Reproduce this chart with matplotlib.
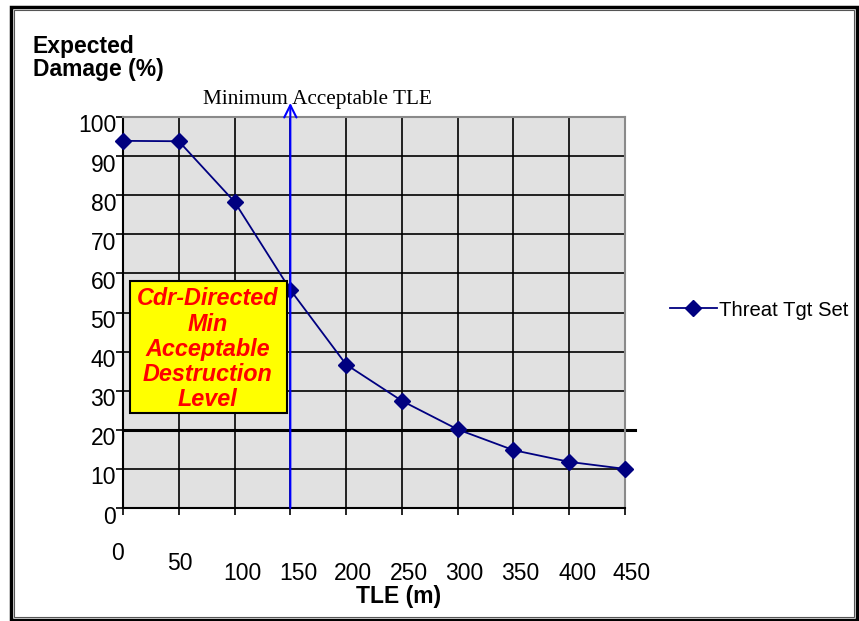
import matplotlib
matplotlib.use('Agg')
import matplotlib.pyplot as plt
from matplotlib.patches import Rectangle

# data
tle = [0, 50, 100, 150, 200, 250, 300, 350, 400, 450]
damage = [93.9, 93.8, 78.3, 55.8, 36.7, 27.4, 20.1, 14.8, 11.8, 10.0]
y_ticks = [0, 10, 20, 30, 40, 50, 60, 70, 80, 90, 100]
x_labels = ['0', '50', '100', '150', '200', '250', '300', '350', '400', '450']
min_tle = 150
min_destruction = 20
series_name = 'Threat Tgt Set'
box_text = 'Cdr-Directed\nMin\nAcceptable\nDestruction\nLevel'

plt.rcParams['font.family'] = ['Liberation Sans', 'DejaVu Sans']

W, H = 859, 621
fig = plt.figure(figsize=(W / 100, H / 100), dpi=100)
ax = fig.add_axes([123 / W, 1 - 508 / H, (625 - 123) / W, (508 - 117) / H])
ax.set_facecolor('#e1e1e1')

ax.set_xlim(0, 450)
ax.set_ylim(0, 100)
ax.set_xticks(tle)
ax.set_yticks(y_ticks)
ax.set_xticklabels([])
ax.set_yticklabels([])
ax.tick_params(direction='out', length=5, width=1.2, color='black')
ax.grid(True, color='black', linewidth=1.2)
ax.set_axisbelow(True)
for side in ['top', 'right']:
    ax.spines[side].set_color('#8a8a8a')
    ax.spines[side].set_linewidth(1.5)
for side in ['left', 'bottom']:
    ax.spines[side].set_color('black')
    ax.spines[side].set_linewidth(1.5)

tick_fs = 16.5

# y tick labels (a bit below the grid lines, like the original)
for v in y_ticks:
    ax.annotate(str(v), xy=(0, v), xycoords=('axes fraction', 'data'),
                xytext=(-7, -9), textcoords='offset pixels',
                ha='right', va='center', fontsize=tick_fs)

# x tick labels, staggered as in the original
x_off = [-6, 1, 8, 8, 7, 7, 7, 7, 8, 7]
y_off = [-45, -55, -65, -65, -65, -65, -65, -65, -65, -65]
for xv, lab, dx, dy in zip(tle, x_labels, x_off, y_off):
    ax.annotate(lab, xy=(xv, 0), xycoords='data',
                xytext=(dx, dy), textcoords='offset pixels',
                ha='center', va='center', fontsize=tick_fs,
                annotation_clip=False)

# minimum destruction level line
ax.plot([0, 459], [min_destruction, min_destruction], color='black',
        linewidth=2.2, clip_on=False, zorder=2)

# series
line, = ax.plot(tle, damage, color='#000080', linewidth=1.3, marker='D',
                markersize=8, clip_on=False, zorder=5, label=series_name)

# minimum acceptable TLE arrow
ax.annotate('', xy=(min_tle, 103.6), xytext=(min_tle, 0),
            arrowprops=dict(arrowstyle='->', color='#0000ff', lw=1.5,
                            mutation_scale=22, shrinkA=0, shrinkB=0),
            annotation_clip=False, zorder=6)
ax.text(174, 104.5, 'Minimum Acceptable TLE', family='Liberation Serif',
        fontsize=15.3, ha='center', va='center', clip_on=False)

# commander-directed box
ax.add_patch(Rectangle((6.3, 24.3), 140.7, 33.7, facecolor='#ffff00',
                       edgecolor='black', linewidth=1.5, zorder=7))
ax.text(76, 40.6, box_text, color='#ff0000', fontsize=16.8, fontweight='bold',
        fontstyle='italic', ha='center', va='center', linespacing=1.12,
        zorder=8)

# axis titles
fig.text(33 / W, 1 - 58 / H, 'Expected\nDamage (%)', fontsize=16.5,
         fontweight='bold', ha='left', va='center', linespacing=1.0)
fig.text(399 / W, 1 - 597 / H, 'TLE (m)', fontsize=16.5, fontweight='bold',
         ha='center', va='center')

# legend
leg = fig.legend(handles=[line], loc='center left',
                 bbox_to_anchor=(662 / W, 1 - 310 / H), frameon=False,
                 fontsize=14.6, handlelength=2.3, handletextpad=0.1,
                 borderaxespad=0)

# figure border
fig.patches.append(Rectangle((11 / W, 1 - 620 / H), (857 - 11) / W,
                             (620 - 7) / H, transform=fig.transFigure,
                             fill=False, edgecolor='black', linewidth=2.5))
fig.patches.append(Rectangle((14 / W, 1 - 617 / H), (854 - 14) / W,
                             (617 - 10) / H, transform=fig.transFigure,
                             fill=False, edgecolor='#555555', linewidth=0.8))

fig.savefig('out.png', dpi=100, facecolor='white')
